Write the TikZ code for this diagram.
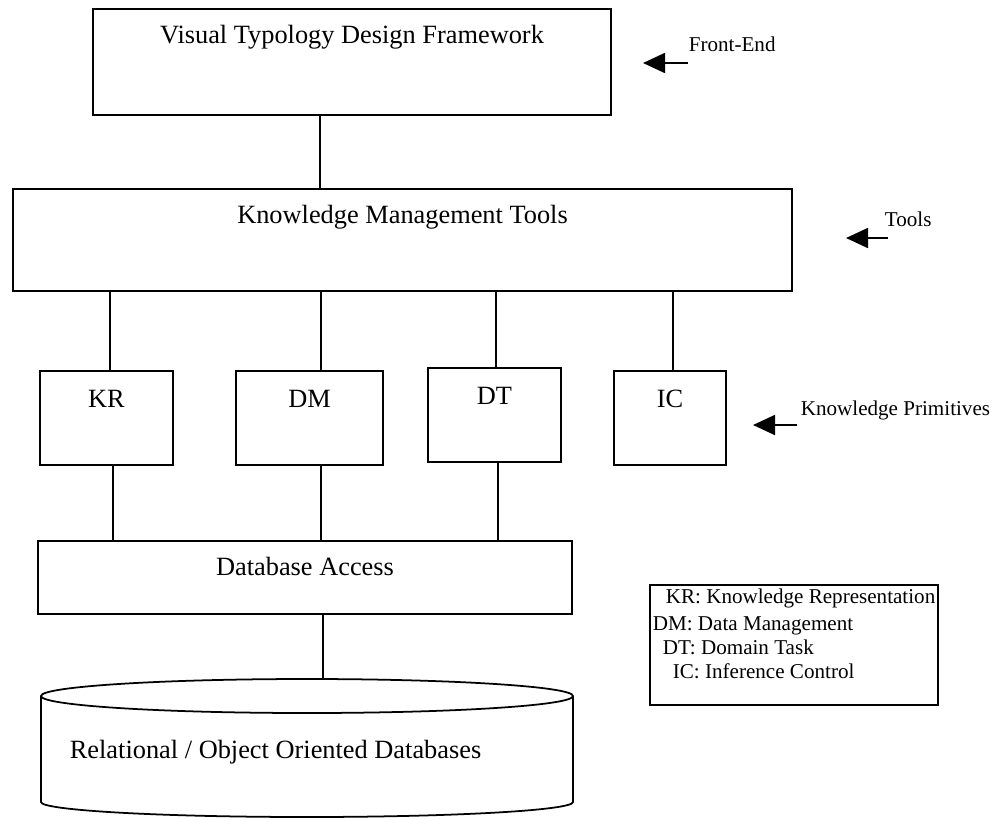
\documentclass[tikz,border=0pt]{standalone}
\usepackage{fontspec}
\setmainfont{Liberation Serif}
\usetikzlibrary{arrows.meta}

\begin{document}
\begin{tikzpicture}[x=0.2mm,y=-0.2mm,line width=1pt,
	big/.style={font=\fontsize{15}{18}\selectfont},
	small/.style={font=\fontsize{12}{14}\selectfont},
	block/.style={big,draw,inner sep=0pt},
	prim/.style={block,text height=7.2mm,text depth=11.6mm},
	pointer/.style={-{Triangle[length=4.4mm,width=4mm]}}]
	\useasboundingbox (0,0) rectangle (993,819);

	% layers
	\node[block,minimum width=103.6mm,text height=6.8mm,text depth=14.4mm,anchor=base] (vtdf) at (352,43) {Visual Typology Design Framework};
	\node[block,minimum width=155.8mm,text height=6.8mm,text depth=13.6mm,anchor=base] (kmt) at (402.5,223) {Knowledge Management Tools};
	\node[prim,minimum width=26.6mm,anchor=base] (kr) at (106.5,407) {KR};
	\node[prim,minimum width=29.4mm,anchor=base] (dm) at (309.5,407) {DM};
	\node[prim,minimum width=26.6mm,anchor=base] (dt) at (494.5,404) {DT};
	\node[prim,minimum width=22.4mm,anchor=base] (ic) at (670,407) {IC};
	\node[block,minimum width=106.8mm,text height=6.8mm,text depth=7.8mm,anchor=base] (dbacc) at (305,575) {Database Access};

	% database cylinder
	\draw (41,696) -- (41,802) arc[start angle=180,end angle=360,x radius=53.2mm,y radius=3mm] -- (573,696);
	\draw (307,696) ellipse[x radius=53.2mm,y radius=3.4mm];
	\coordinate (cyltop) at (323,679);
	\node[big,inner sep=0pt,anchor=base west] (dbtxt) at (69,758) {Relational / Object Oriented Databases};

	% connections
	\draw (320,0 |- vtdf.south) -- (320,0 |- kmt.north);
	\draw (110,0 |- kmt.south) -- (110,0 |- kr.north);
	\draw (321,0 |- kmt.south) -- (321,0 |- dm.north);
	\draw (496,0 |- kmt.south) -- (496,0 |- dt.north);
	\draw (673,0 |- kmt.south) -- (673,0 |- ic.north);
	\draw (113,0 |- kr.south) -- (113,0 |- dbacc.north);
	\draw (321,0 |- dm.south) -- (321,0 |- dbacc.north);
	\draw (498,0 |- dt.south) -- (498,0 |- dbacc.north);
	\draw (cyltop |- dbacc.south) -- (cyltop);

	% side labels
	\node[small,inner sep=0pt,anchor=base west] (fe) at (688,51) {Front-End};
	\coordinate (fetail) at (688,63);
	\coordinate (fetip) at (643,63);
	\draw[pointer] (fetail) -- (fetip);
	\node[small,inner sep=0pt,anchor=base west] (tl) at (884,226) {Tools};
	\coordinate (tltail) at (888,238);
	\coordinate (tltip) at (846,238);
	\draw[pointer] (tltail) -- (tltip);
	\node[small,inner sep=0pt,anchor=base west] (kp) at (800,415) {Knowledge Primitives};
	\coordinate (kptail) at (797,425);
	\coordinate (kptip) at (753,425);
	\draw[pointer] (kptail) -- (kptip);

	% legend
	\node[draw,inner sep=0pt,minimum width=57.6mm,minimum height=24mm] (legend) at (794,645) {};
	\node[small,inner sep=0pt,anchor=base west] (lkr) at (665,603) {KR: Knowledge Representation};
	\node[small,inner sep=0pt,anchor=base west] (ldm) at (652,630) {DM: Data Management};
	\node[small,inner sep=0pt,anchor=base west] (ldt) at (662,654) {DT: Domain Task};
	\node[small,inner sep=0pt,anchor=base west] (lic) at (672,678) {IC: Inference Control};
\end{tikzpicture}
\end{document}
